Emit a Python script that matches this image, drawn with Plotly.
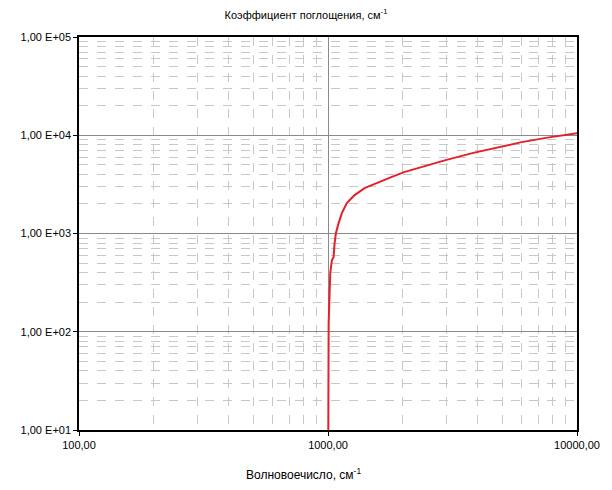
import plotly.graph_objects as go

# Data (wavenumber, cm^-1 ; absorption coefficient, cm^-1)
wavenumber = [1000, 1001, 1004, 1006, 1012, 1021, 1037, 1053, 1063, 1076, 1103, 1137,
              1190, 1279, 1402, 1594, 1795, 2021, 2255, 2471, 2967, 3797, 4815, 5995,
              7603, 10000]
absorption = [1, 60, 110, 123, 196, 396, 536, 575, 799, 1009, 1275, 1612,
              2037, 2458, 2897, 3335, 3750, 4218, 4571, 4909, 5583, 6577, 7570, 8511,
              9460, 10500]

x_tickvals = [100, 1000, 10000]
x_ticktext = ["100,00", "1000,00", "10000,00"]
y_tickvals = [10, 100, 1000, 10000, 100000]
y_ticktext = ["1,00 E+01", "1,00 E+02", "1,00 E+03", "1,00 E+04", "1,00 E+05"]

title_text = "Коэффициент поглощения, см<sup>-1</sup>"
xlabel_text = "Волновоечисло, см<sup>-1</sup>"

FONT = "Liberation Sans, Arial, sans-serif"

fig = go.Figure()
fig.add_trace(go.Scatter(x=wavenumber, y=absorption, mode="lines",
                         line=dict(color="#e3202b", width=2), showlegend=False))

axis_common = dict(
    type="log",
    showline=True, linecolor="black", linewidth=1.5, mirror=True,
    ticks="outside", ticklen=4, tickcolor="black", tickwidth=1,
    showgrid=True, gridcolor="#8a8a8a", gridwidth=1,
    zeroline=False,
    tickfont=dict(family=FONT, size=11, color="black"),
    minor=dict(showgrid=True, dtick="D1", griddash="dash", gridcolor="#c8c8c8",
               gridwidth=1, ticks=""),
)

fig.update_layout(
    width=612, height=490,
    margin=dict(l=79, r=29, t=37, b=60),
    paper_bgcolor="white", plot_bgcolor="white",
    font=dict(family=FONT, size=11, color="black"),
    title=dict(text=title_text, x=0.5, xref="container", xanchor="center",
               y=1 - 15 / 490, yref="container", yanchor="middle",
               font=dict(family=FONT, size=11, color="black")),
    xaxis=dict(range=[2, 4], tickvals=x_tickvals, ticktext=x_ticktext, **axis_common),
    yaxis=dict(range=[1, 5], tickvals=y_tickvals, ticktext=y_ticktext, **axis_common),
    annotations=[dict(text=xlabel_text, xref="paper", yref="paper",
                      x=(306 - 79) / 504, y=(430 - 474) / 393.3,
                      xanchor="center", yanchor="middle", showarrow=False,
                      font=dict(family=FONT, size=12, color="black"))],
)

fig.write_html("out.html")
